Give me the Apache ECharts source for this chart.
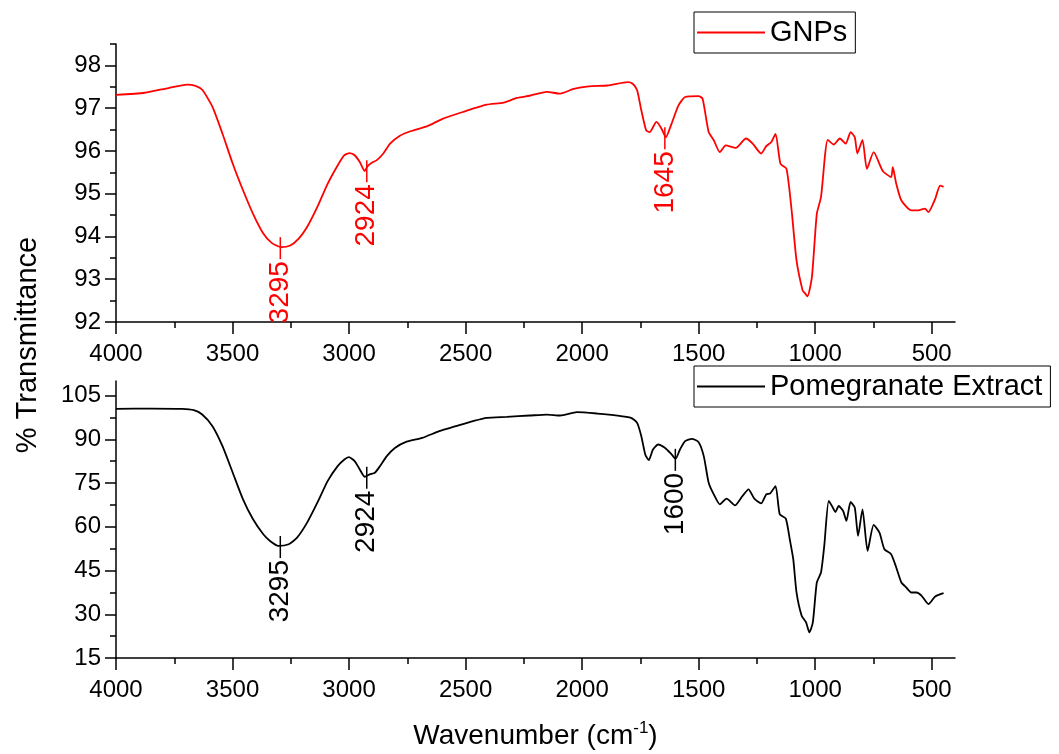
<!DOCTYPE html>
<html><head><meta charset="utf-8">
<script src="https://cdn.jsdelivr.net/npm/echarts@6/dist/echarts.min.js"></script>
<style>html,body{margin:0;padding:0;background:#fff}#c{width:1059px;height:754px}</style>
</head><body><div id="c"></div>
<script>
// ---------- data ----------
const gnpWavenumber = [4000,3877,3775,3695,3659,3630,3586,3543,3499,3455,3412,3368,3332,3291,3252,3216,3180,3136,3092,3049,3020,2998,2976,2954,2933,2921,2904,2882,2853,2824,2780,2737,2664,2599,2512,2410,2337,2279,2225,2152,2094,2036,1971,1891,1804,1783,1764,1746,1725,1710,1681,1659,1641,1616,1587,1558,1500,1483,1457,1435,1409,1384,1341,1297,1268,1232,1210,1188,1170,1149,1123,1101,1080,1054,1045,1033,1014,993,975,946,920,894,869,848,830,819,797,778,749,710,674,667,652,630,587,558,529,514,485,464,449];
const gnpTransmittance = [97.31,97.36,97.47,97.55,97.52,97.43,97.03,96.40,95.70,95.08,94.53,94.07,93.85,93.75,93.79,93.95,94.22,94.69,95.23,95.66,95.90,95.95,95.90,95.74,95.53,95.64,95.72,95.78,95.94,96.17,96.36,96.46,96.58,96.75,96.91,97.08,97.13,97.24,97.29,97.38,97.34,97.45,97.51,97.53,97.61,97.57,97.42,96.95,96.48,96.44,96.68,96.52,96.32,96.64,97.06,97.26,97.28,97.22,96.44,96.25,95.97,96.13,96.07,96.29,96.17,95.94,96.11,96.21,96.40,95.70,95.58,94.61,93.44,92.74,92.68,92.60,93.05,94.53,94.92,96.26,96.15,96.29,96.17,96.44,96.32,95.94,96.26,95.58,95.97,95.53,95.39,95.62,95.23,94.84,94.61,94.61,94.65,94.57,94.88,95.19,95.16];

const pomWavenumber = [4000,3848,3717,3666,3630,3586,3543,3499,3455,3412,3368,3339,3303,3259,3223,3180,3136,3092,3049,3020,3001,2976,2954,2933,2911,2889,2867,2838,2802,2758,2686,2613,2541,2468,2410,2323,2224,2152,2094,2022,1935,1848,1790,1764,1746,1729,1714,1696,1674,1645,1616,1599,1580,1558,1529,1500,1478,1457,1435,1409,1380,1344,1312,1286,1261,1232,1210,1193,1170,1152,1126,1109,1094,1080,1058,1039,1025,1010,993,975,961,942,928,913,899,880,866,848,830,816,797,775,749,724,703,674,652,630,609,587,565,543,514,485,449];
const pomTransmittance = [100.44,100.55,100.44,99.98,98.50,94.51,87.66,78.54,69.41,62.57,57.43,55.15,53.44,54.01,56.29,61.43,68.27,75.68,80.82,83.10,83.90,82.53,79.68,77.17,77.96,78.54,80.82,84.24,87.09,89.03,90.51,92.79,94.51,96.22,97.36,97.70,98.16,98.50,98.16,99.30,98.84,98.16,97.36,95.65,91.08,84.81,82.87,86.52,88.23,87.09,84.81,83.33,86.52,89.37,90.17,89.03,84.24,75.11,71.12,67.70,69.64,67.36,70.55,72.83,69.64,68.04,71.12,71.46,73.97,64.28,62.79,55.72,48.88,37.47,29.49,27.21,23.78,27.21,40.90,44.31,53.44,68.84,67.13,65.08,67.13,65.42,62.00,68.50,66.56,56.86,65.99,51.73,60.63,58.00,52.30,50.59,46.03,40.90,39.18,37.47,37.47,36.33,33.48,36.10,37.24];

const gnpPeakWavenumber = [3295, 2924, 1645];
const gnpPeakTransmittance = [93.75, 95.55, 96.32];
const pomPeakWavenumber = [3295, 2924, 1600];
const pomPeakTransmittance = [53.4, 77.2, 83.3];

const xMajorTicks = [4000,3500,3000,2500,2000,1500,1000,500];
const xMinorTicks = [3750,3250,2750,2250,1750,1250,750];
const gnpYTicks = [92,93,94,95,96,97,98];
const gnpYMinorTicks = [92.5,93.5,94.5,95.5,96.5,97.5,98.5];
const pomYTicks = [15,30,45,60,75,90,105];
const pomYMinorTicks = [22.5,37.5,52.5,67.5,82.5,97.5];

const seriesNames = ['GNPs', 'Pomegranate Extract'];
const xTitle = 'Wavenumber (cm';
const xTitleSup = '-1';
const yTitle = '% Transmittance';

// ---------- chart ----------
const FONT = '"Liberation Sans", Arial, sans-serif';
const chart = echarts.init(document.getElementById('c'), null, {renderer: 'canvas'});

function zip(a, b) { return a.map((v, i) => [v, b[i]]); }
function plain(v) { return String(v); }

function mainX(grid, withName) {
  const ax = {
    type: 'value', gridIndex: grid, min: 400, max: 4000, inverse: true, position: 'bottom',
    axisLine: {show: true, onZero: false, lineStyle: {color: '#000', width: 1.5}},
    axisTick: {show: true, inside: false, length: 12, customValues: xMajorTicks, lineStyle: {color: '#000', width: 1.5}},
    axisLabel: {show: true, customValues: xMajorTicks, formatter: plain, fontSize: 24, fontFamily: FONT, color: '#000', margin: 20},
    splitLine: {show: false}
  };
  if (withName) {
    ax.name = '{a|' + xTitle + '}{s|' + xTitleSup + '}{a|)}';
    ax.nameLocation = 'middle';
    ax.nameGap = 62;
    ax.nameTextStyle = {rich: {
      a: {fontSize: 28, fontFamily: FONT, color: '#000', lineHeight: 32},
      s: {fontSize: 17, fontFamily: FONT, color: '#000', verticalAlign: 'top', lineHeight: 32}
    }};
  }
  return ax;
}
function minorX(grid) {
  return {
    type: 'value', gridIndex: grid, min: 400, max: 4000, inverse: true, position: 'bottom',
    axisLine: {show: false}, axisLabel: {show: false}, splitLine: {show: false},
    axisTick: {show: true, inside: false, length: 6, customValues: xMinorTicks, lineStyle: {color: '#000', width: 1.5}}
  };
}
function mainY(grid, min, max, ticks) {
  return {
    type: 'value', gridIndex: grid, min: min, max: max, position: 'left',
    axisLine: {show: true, onZero: false, lineStyle: {color: '#000', width: 1.5}},
    axisTick: {show: true, inside: false, length: 11, customValues: ticks, lineStyle: {color: '#000', width: 1.5}},
    axisLabel: {show: true, customValues: ticks, formatter: plain, fontSize: 24, fontFamily: FONT, color: '#000', margin: 15},
    splitLine: {show: false}
  };
}
function minorY(grid, min, max, ticks) {
  return {
    type: 'value', gridIndex: grid, min: min, max: max, position: 'left',
    axisLine: {show: false}, axisLabel: {show: false}, splitLine: {show: false},
    axisTick: {show: true, inside: false, length: 6, customValues: ticks, lineStyle: {color: '#000', width: 1.5}}
  };
}

function peakSeries(xs, ys, color, xi, yi) {
  return {
    type: 'custom', xAxisIndex: xi, yAxisIndex: yi, clip: false, silent: true, z: 5,
    data: zip(xs, ys),
    renderItem: function (params, api) {
      const p = api.coord([api.value(0), api.value(1)]);
      return {type: 'group', children: [
        {type: 'line', shape: {x1: p[0], y1: p[1] - 10, x2: p[0], y2: p[1] + 12},
         style: {stroke: color, lineWidth: 1.5}},
        {type: 'text', x: p[0], y: p[1] + 14, rotation: Math.PI / 2,
         style: {text: String(api.value(0)), fill: color, fontSize: 28, fontFamily: FONT,
                 align: 'right', verticalAlign: 'middle'}}
      ]};
    }
  };
}

function legendFor(name, top) {
  return {
    data: [name], left: 694, top: top, orient: 'horizontal',
    padding: [6, 8, 6, 3], borderColor: '#000', borderWidth: 1, backgroundColor: '#fff',
    itemWidth: 68, itemHeight: 2, icon: 'rect', selectedMode: false,
    textStyle: {fontSize: 29, fontFamily: FONT, color: '#000'}
  };
}

const option = {
  animation: false,
  backgroundColor: '#fff',
  grid: [
    {left: 116, top: 44, width: 839, height: 278},
    {left: 116, top: 381, width: 839, height: 277}
  ],
  xAxis: [mainX(0, false), minorX(0), mainX(1, true), minorX(1)],
  yAxis: [
    mainY(0, 92, 98.5, gnpYTicks), minorY(0, 92, 98.5, gnpYMinorTicks),
    mainY(1, 15, 110, pomYTicks), minorY(1, 15, 110, pomYMinorTicks)
  ],
  legend: [legendFor(seriesNames[0], 12), legendFor(seriesNames[1], 366)],
  graphic: [{
    type: 'text', x: 28, y: 345, rotation: Math.PI / 2,
    style: {text: yTitle, fontSize: 29, fontFamily: FONT, fill: '#000', align: 'center', verticalAlign: 'middle'}
  }],
  series: [
    {name: seriesNames[0], type: 'line', xAxisIndex: 0, yAxisIndex: 0, data: zip(gnpWavenumber, gnpTransmittance),
     showSymbol: false, smooth: 0.2, color: '#ff0000', lineStyle: {color: '#ff0000', width: 1.8}},
    {name: seriesNames[1], type: 'line', xAxisIndex: 2, yAxisIndex: 2, data: zip(pomWavenumber, pomTransmittance),
     showSymbol: false, smooth: 0.2, color: '#000000', lineStyle: {color: '#000000', width: 1.8}},
    peakSeries(gnpPeakWavenumber, gnpPeakTransmittance, '#ff0000', 0, 0),
    peakSeries(pomPeakWavenumber, pomPeakTransmittance, '#000000', 2, 2)
  ]
};
chart.setOption(option);
</script>
</body></html>
